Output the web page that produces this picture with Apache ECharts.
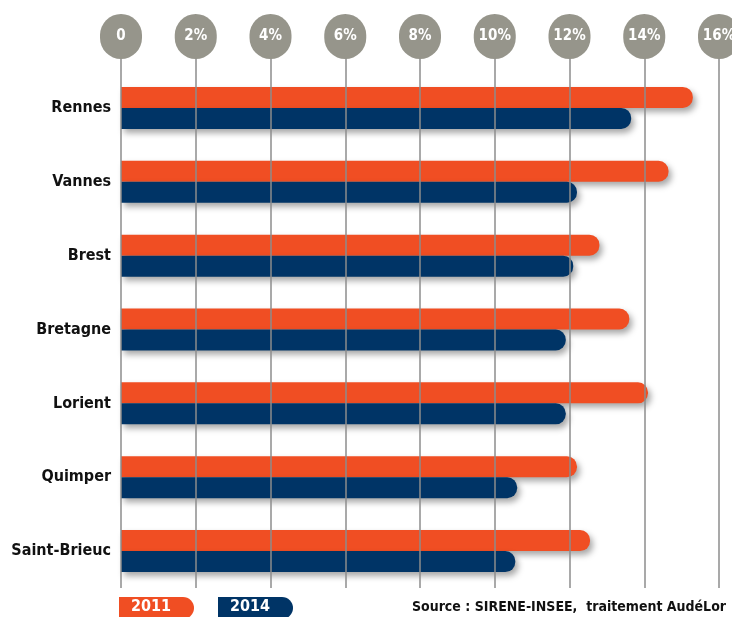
<!DOCTYPE html>
<html>
  <head>
    <meta charset="UTF-8" />
    <script src="https://cdn.jsdelivr.net/npm/echarts@6/dist/echarts.min.js"></script>
    <style>
      html, body { margin: 0; padding: 0; background: #fff; }
    </style>
  </head>
  <body>
    <div id="main"></div>
    <script>
      const width = 732;
      const height = 617;
      const main = document.getElementById('main');
      main.style.width = `${width}px`;
      main.style.height = `${height}px`;

      const FONT = '"Liberation Sans Narrow", "DejaVu Sans Condensed", sans-serif';
      const ORANGE = '#f04e23';
      const NAVY = '#003466';
      const GREY = '#96958b';

      const cities = ['Rennes', 'Vannes', 'Brest', 'Bretagne', 'Lorient', 'Quimper', 'Saint-Brieuc'];
      const values2011 = [15.3, 14.65, 12.8, 13.6, 14.1, 12.2, 12.55];
      const values2014 = [13.65, 12.2, 12.1, 11.9, 11.9, 10.6, 10.55];
      const tickValues = [0, 2, 4, 6, 8, 10, 12, 14, 16];

      const barStyle = (color) => ({
        color: color,
        borderRadius: [0, 10, 10, 0],
        shadowColor: 'rgba(0,0,0,0.35)',
        shadowBlur: 6,
        shadowOffsetX: 3,
        shadowOffsetY: 4,
      });

      const legendBox = (x, label, color) => ({
        type: 'group',
        left: x,
        top: 597,
        children: [
          {
            type: 'rect',
            shape: { x: 0, y: 0, width: 75, height: 22, r: [0, 11, 11, 0] },
            style: { fill: color },
          },
          {
            type: 'text',
            x: 32,
            y: 10,
            style: {
              text: label,
              fill: '#fff',
              font: 'bold 16px ' + FONT,
              align: 'center',
              verticalAlign: 'middle',
            },
          },
        ],
      });

      const myChart = echarts.init(main);
      const option = {
        animation: false,
        grid: { left: 121, right: 13, top: 71, bottom: 29, outerBoundsMode: 'none', containLabel: false },
        xAxis: {
          type: 'value',
          position: 'top',
          min: tickValues[0],
          max: tickValues[tickValues.length - 1],
          interval: 2,
          z: 3,
          axisLine: { show: false },
          axisTick: {
            show: true,
            length: 14,
            lineStyle: { color: '#8c8c8c', width: 1.5 },
          },
          splitLine: {
            show: true,
            lineStyle: { color: '#8c8c8c', width: 1.5 },
          },
          axisLabel: {
            formatter: (v) => (v === 0 ? '0' : v + '%'),
            color: '#fff',
            fontWeight: 'bold',
            fontSize: 15,
            fontFamily: FONT,
            backgroundColor: GREY,
            width: 42,
            height: 45,
            lineHeight: 45,
            borderRadius: 22,
            align: 'center',
            margin: 12,
          },
        },
        yAxis: {
          type: 'category',
          inverse: true,
          data: cities,
          axisLine: { show: false },
          axisTick: { show: false },
          axisLabel: {
            color: '#111',
            fontWeight: 'bold',
            fontSize: 16,
            fontFamily: FONT,
            margin: 10,
          },
        },
        series: [
          {
            name: '2011',
            type: 'bar',
            data: values2011,
            barWidth: 21,
            barGap: '0%',
            itemStyle: barStyle(ORANGE),
          },
          {
            name: '2014',
            type: 'bar',
            data: values2014,
            barWidth: 21,
            barGap: '0%',
            itemStyle: barStyle(NAVY),
          },
        ],
        graphic: [
          legendBox(119, '2011', ORANGE),
          legendBox(218, '2014', NAVY),
          {
            type: 'text',
            right: 6,
            top: 600,
            style: {
              text: 'Source : SIRENE-INSEE,  traitement AudéLor',
              fill: '#111',
              font: 'bold 14px ' + FONT,
            },
          },
        ],
      };
      myChart.setOption(option);
    </script>
  </body>
</html>
